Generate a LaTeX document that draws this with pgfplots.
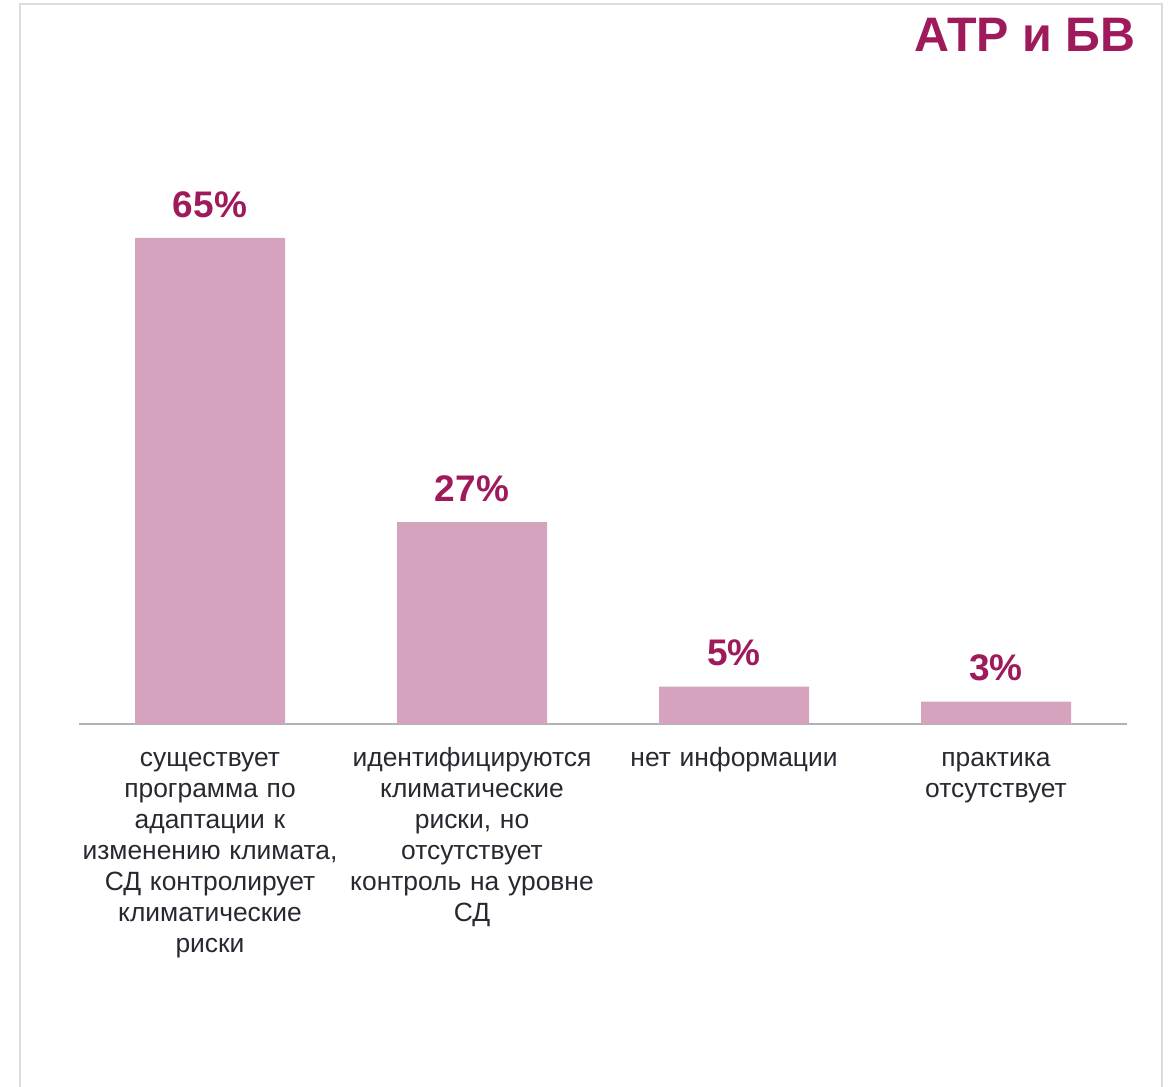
\documentclass[border=0pt]{standalone}
\usepackage{pgfplots}
\pgfplotsset{compat=1.18}
\usepackage{fontspec}
\setmainfont{Liberation Sans}
\definecolor{wine}{RGB}{158,26,90}
\definecolor{barpink}{RGB}{213,163,190}
\definecolor{labelgray}{RGB}{40,40,50}
\definecolor{framegray}{RGB}{220,220,220}
\begin{document}
\begin{tikzpicture}[x=0.5pt,y=0.5pt]
\path[use as bounding box] (0,0) rectangle (1173,1087);
\draw[framegray, line width=1pt] (20,0) -- (20,1083) -- (1162,1083) -- (1162,0);
\node[anchor=base east, font=\fontsize{24.2}{28}\selectfont\bfseries, text=wine, inner sep=0pt]
  at (1136,1035) {АТР и БВ};
\begin{axis}[
  at={(39.5pt,181.5pt)}, anchor=south west,
  scale only axis,
  width=524pt, height=243pt,
  xmin=-0.5, xmax=3.5, ymin=0, ymax=65,
  ybar, bar width=75pt,
  axis x line*=bottom, hide y axis,
  x axis line style={draw=gray!60, line width=1pt, -},
  xtick=data, major tick length=0pt,
  xticklabels={
    {существует\\программа по\\адаптации к\\изменению климата,\\СД контролирует\\климатические\\риски},
    {идентифицируются\\климатические\\риски, но\\отсутствует\\контроль на уровне\\СД},
    {нет информации},
    {практика\\отсутствует}},
  xticklabel style={anchor=base, yshift=-21.5pt, inner sep=0pt, text width=140pt, align=center,
    font=\fontsize{13.2}{15.5}\selectfont, text=labelgray},
  nodes near coords={\pgfmathprintnumber[assume math mode=true]{\pgfplotspointmeta}\%},
  every node near coord/.append style={anchor=base, yshift=10.5pt, inner sep=0pt,
    font=\fontsize{18.5}{22}\selectfont\bfseries, text=wine},
  clip=false,
]
\addplot[fill=barpink, draw=none] coordinates {(0,65) (1,27) (2,5) (3,3)};
\end{axis}
\end{tikzpicture}
\end{document}
